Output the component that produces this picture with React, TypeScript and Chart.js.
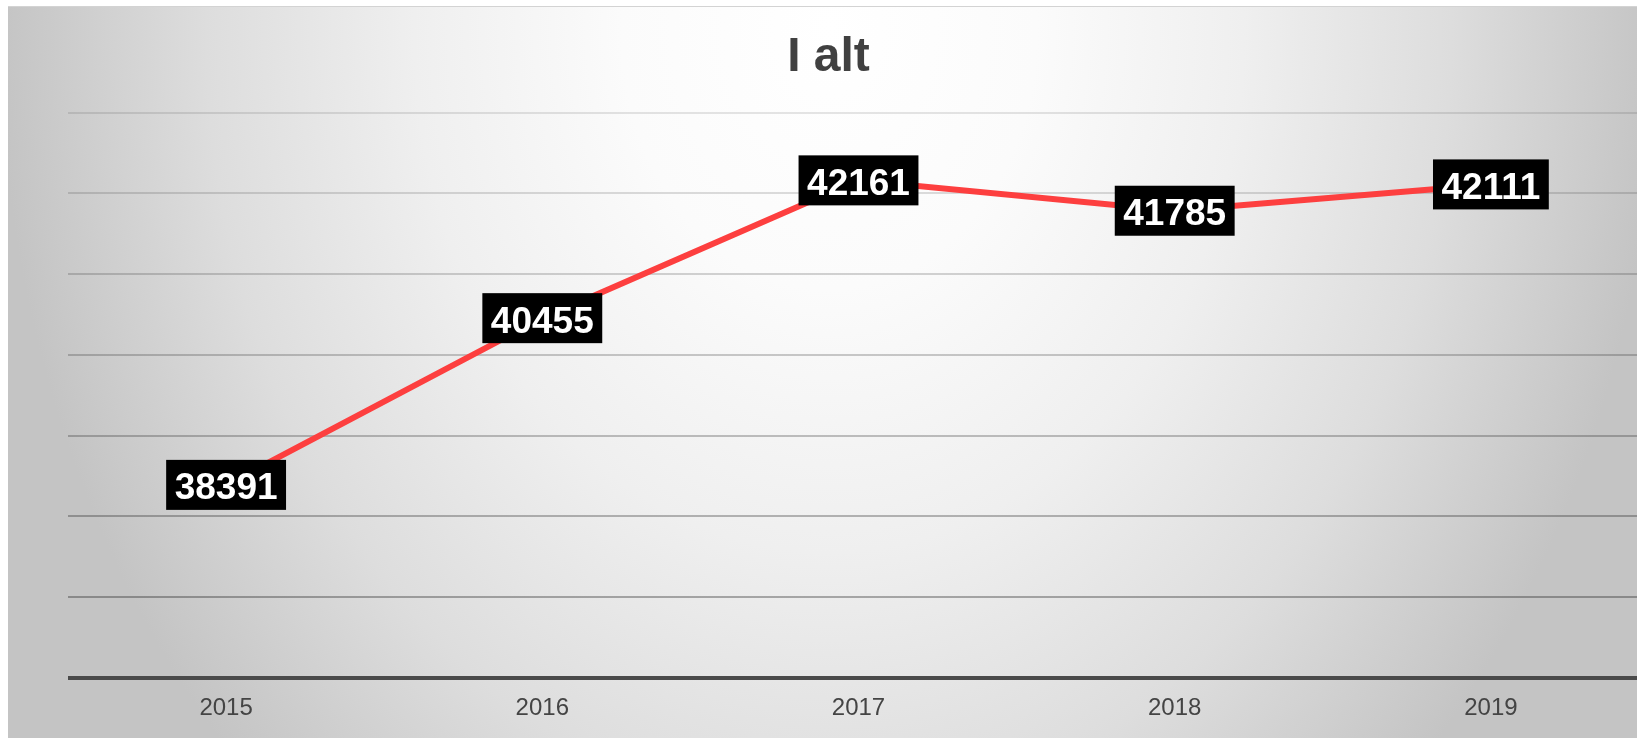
import React, { useEffect, useRef } from 'react';
import { Chart, registerables } from 'chart.js';

Chart.register(...registerables);

const categories: string[] = ['2015', '2016', '2017', '2018', '2019'];
const values: number[] = [38391, 40455, 42161, 41785, 42111];
const yMin = 36000;
const yMax = 43000;
const yStep = 1000;
const titleText = 'I alt';

const FONT = '"Liberation Sans", Arial, Helvetica, sans-serif';

const valueBoxPlugin = {
  id: 'valueBoxes',
  afterDatasetsDraw(chart: any) {
    const ctx = chart.ctx as CanvasRenderingContext2D;
    const meta = chart.getDatasetMeta(0);
    const data = chart.data.datasets[0].data as number[];
    ctx.save();
    ctx.font = `bold 37px ${FONT}`;
    meta.data.forEach((pt: any, i: number) => {
      const text = String(data[i]);
      const w = ctx.measureText(text).width + 17;
      const h = 50;
      ctx.fillStyle = '#000000';
      ctx.fillRect(pt.x - w / 2, pt.y - h / 2, w, h);
      ctx.fillStyle = '#ffffff';
      ctx.textAlign = 'center';
      ctx.textBaseline = 'alphabetic';
      ctx.fillText(text, pt.x, pt.y + 14.6);
    });
    ctx.restore();
  },
};

export default function App() {
  const canvasRef = useRef<HTMLCanvasElement | null>(null);

  useEffect(() => {
    if (!canvasRef.current) return;
    const chart = new Chart(canvasRef.current, {
      type: 'line',
      data: {
        labels: categories,
        datasets: [
          {
            data: values,
            borderColor: '#fd3f3f',
            backgroundColor: '#fd3f3f',
            borderWidth: 6,
            pointRadius: 0,
            tension: 0,
            fill: false,
          },
        ],
      },
      options: {
        animation: false,
        responsive: true,
        maintainAspectRatio: false,
        layout: { padding: { left: 0, right: 1, top: 0, bottom: 10 } },
        plugins: {
          legend: { display: false },
          tooltip: { enabled: false },
          title: {
            display: true,
            text: titleText,
            color: '#404040',
            font: { family: FONT, size: 48, weight: 'bold', lineHeight: 1.2 },
            padding: { top: 22, bottom: 26 },
          },
        },
        scales: {
          x: {
            offset: true,
            grid: { display: false, drawTicks: false },
            border: { display: false },
            ticks: {
              color: '#444444',
              font: { family: FONT, size: 24 },
              padding: 16,
              autoSkip: false,
              maxRotation: 0,
            },
            afterFit: (s: any) => {
              s.height = 50;
            },
          },
          y: {
            min: yMin,
            max: yMax,
            ticks: { stepSize: yStep, display: false },
            grid: {
              drawTicks: false,
              color: (c: any) => {
                const v = c.tick ? c.tick.value : yMax;
                if (v === yMin) return '#4a4a4a';
                const a = 0.1 + ((yMax - v) / (yMax - yMin - yStep)) * 0.2;
                return `rgba(0,0,0,${a.toFixed(3)})`;
              },
              lineWidth: (c: any) => (c.tick && c.tick.value === yMin ? 4 : 2),
            },
            border: { display: false },
            afterFit: (s: any) => {
              s.width = 60;
            },
          },
        },
      },
      plugins: [valueBoxPlugin],
    });
    return () => chart.destroy();
  }, []);

  return (
    <div
      style={{
        position: 'fixed',
        left: 8,
        top: 6,
        width: 1629,
        height: 732,
        overflow: 'hidden',
        borderTop: '1px solid #d3d3d3',
        boxSizing: 'border-box',
      }}
    >
      <div
        style={{
          position: 'relative',
          width: 1642,
          height: 731,
          background:
            'radial-gradient(ellipse 830px 1050px at 821px 20px, #ffffff 0%, #fbfbfb 25%, #efefef 50%, #dddddd 75%, #c4c4c4 100%)',
        }}
      >
        <canvas ref={canvasRef} />
      </div>
    </div>
  );
}
